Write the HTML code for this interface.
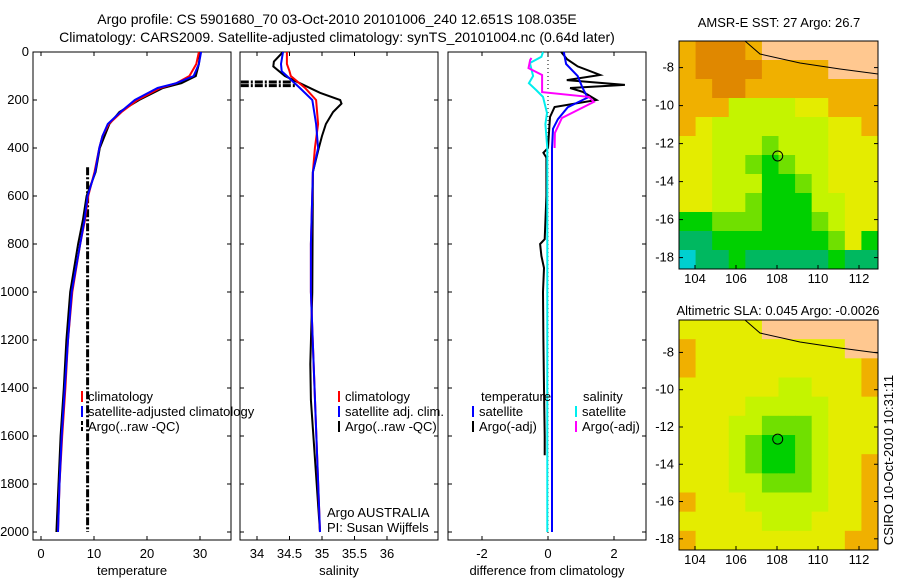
<!DOCTYPE html>
<html><head><meta charset="utf-8"><style>
body{margin:0;background:#fff;width:900px;height:580px;overflow:hidden}
svg text{font-family:"Liberation Sans",sans-serif;font-size:13px;fill:#000}
svg text.big{font-size:14px}
</style></head><body>
<svg id="c" width="900" height="580" xmlns="http://www.w3.org/2000/svg">
<text class="big" x="337" y="24" text-anchor="middle">Argo profile: CS 5901680_70 03-Oct-2010 20101006_240 12.651S 108.035E</text>
<text class="big" x="337" y="42" text-anchor="middle">Climatology: CARS2009. Satellite-adjusted climatology: synTS_20101004.nc (0.64d later)</text>
<text x="779" y="27" text-anchor="middle">AMSR-E SST: 27 Argo: 26.7</text>
<text x="778" y="315" text-anchor="middle">Altimetric SLA: 0.045 Argo: -0.0026</text>
<text transform="translate(893,460) rotate(-90)" text-anchor="middle">CSIRO 10-Oct-2010 10:31:11</text>
<g id="g"></g>
</svg>
<script>
// ---- data ----
const depthT=[0,50,100,130,150,200,250,300,350,400,500,600,700,800,1000,1200,1400,1600,1800,2000];
const tempClim=[29.8,29.3,28.0,25.5,22.5,18.2,15.2,12.8,11.6,11.0,10.1,8.9,8.3,7.4,5.9,5.1,4.6,4.0,3.5,3.2];
const tempSat=[30.2,29.8,28.8,25.5,22,17.7,15,12.6,11.6,11.0,10.2,8.8,8.2,7.4,5.8,5.1,4.5,3.9,3.5,3.2];
const tempArgo=[30.0,29.8,29.2,26.5,23,18.5,14.8,12.9,12.0,11.1,10.3,8.6,7.9,7.0,5.5,4.8,4.3,3.7,3.3,2.9];
const tempRawDepth=[480,2000];
const tempRaw=[8.8,8.8];
const depthS=[0,50,80,100,150,200,300,400,500,800,1000,2000];
const salClim=[34.46,34.46,34.5,34.52,34.74,34.91,34.94,34.89,34.86,34.83,34.83,34.97];
const salSat=[34.4,34.37,34.38,34.46,34.66,34.85,34.91,34.94,34.86,34.83,34.83,34.97];
const depthSA=[0,40,60,100,130,170,200,215,250,300,350,400,500,1000,1300,1450,2000];
const salArgo=[34.4,34.26,34.25,34.43,34.66,34.97,35.28,35.3,35.17,35.06,35.0,34.95,34.86,34.85,34.82,34.83,34.97];
const salRawDepth=[125,140];
const depthDB=[0,50,100,150,190,230,280,320,400,600,1000,2000];
const diffTSat=[0.48,0.55,0.9,1.05,1.2,0.6,0.3,0.15,0.12,0.12,0.12,0.12];
const depthDA=[0,30,60,96,117,137,150,167,200,229,271,400,420,440,600,780,800,850,900,1000,1200,1400,1600,1680];
const diffTArgo=[0.4,0.58,0.9,1.58,0.57,2.33,0.67,1.07,1.47,0.2,0.06,0,-0.14,-0.05,-0.05,-0.1,-0.24,-0.2,-0.12,-0.15,-0.14,-0.12,-0.1,-0.1];
const depthDC=[0,20,46,100,130,160,187,254,300,400,2000];
const diffSSat=[-0.15,-0.2,-0.55,-0.45,-0.58,-0.35,-0.15,-0.03,-0.08,-0.02,-0.02];
const depthDM=[25,33,67,96,167,187,208,233,275,337,400];
const diffSArgo=[-0.5,-0.54,-0.59,-0.18,-0.18,1.24,1.39,1.03,0.42,0.21,0.2];
const depthTicks=[0,200,400,600,800,1000,1200,1400,1600,1800,2000];
const tempTicks=[0,10,20,30];
const salTicks=[34,34.5,35,35.5,36];
const diffTicks=[-2,0,2];
const lonTicks=[104,106,108,110,112];
const latTicks=[-8,-10,-12,-14,-16,-18];
const argoLon=108.035, argoLat=-12.651;
const sstGrid=["oOOOoLLLLLLL","oOOOOooooLLL","ooOOoooooooo","oooyyyyYYooo","oYyyyyyyyYYo","YYyyygyyyYYY","YYyygGgyyYYY","YYyyyGGgyYYY","YYyygGGGyyYY","GGgggGGGgyYY","ttGGGGGGGgYG","cttGtttttGtt"];
const slaGrid=["YYYYYLLLLLLL","oYYYYYYYYYLL","oYYYYYYYYYYo","YYYYYYyyYYYo","YYYYyyyyyYYY","YYYyygggyYYY","YYYygGGgyYYY","YYYygGGgyYYo","YYYyygggyYYo","oYYYyyyyyYYo","YYYYYyyyYYYo","oYYYYYYYYYoo"];
// ---- helpers ----
const NS="http://www.w3.org/2000/svg",G=document.getElementById('g');
function mk(t,a,p){const e=document.createElementNS(NS,t);for(const k in a)e.setAttribute(k,a[k]);(p||G).appendChild(e);return e;}
const yD=d=>52+d*0.24;
const xT=v=>41+v*5.3, xS=v=>257+(v-34)*65, xDf=v=>548+v*33;
const xL=l=>695+(l-104)*20.5;
function line(xs,ds,fx,col,name,w,dash){
  const pts=xs.map((v,i)=>fx(v).toFixed(1)+','+yD(ds[i]).toFixed(1)).join(' ');
  const e=mk('polyline',{points:pts,fill:'none',stroke:col,'stroke-width':w||2});
  if(dash)e.setAttribute('stroke-dasharray',dash);
  
  
}
function panel(x0,name,ticks,fx,title,showY){
  const b=mk('rect',{x:x0,y:52,width:198,height:488,fill:'none',stroke:'#000','stroke-width':1});
  
  
  depthTicks.forEach(d=>{mk('line',{x1:x0,x2:x0+4,y1:yD(d),y2:yD(d),stroke:'#000'});mk('line',{x1:x0+198,x2:x0+194,y1:yD(d),y2:yD(d),stroke:'#000'});
    if(showY){const t=mk('text',{x:x0-4,y:yD(d)+4,'text-anchor':'end'});t.textContent=d;
      
      }});
  ticks.forEach(v=>{const x=fx(v);mk('line',{x1:x,x2:x,y1:540,y2:536,stroke:'#000'});mk('line',{x1:x,x2:x,y1:52,y2:56,stroke:'#000'});
    const t=mk('text',{x:x,y:558,'text-anchor':'middle'});t.textContent=v;
    
    });
  const tt=mk('text',{x:x0+99,y:575,'text-anchor':'middle'});tt.textContent=title;
  
  
}
function txt(x,y,s,name,anchor){const t=mk('text',{x:x,y:y,'text-anchor':anchor||'start'});t.textContent=s;
  
  }
function leg(x,y,col,label,name,dash){const l=mk('line',{x1:x,x2:x,y1:y-10,y2:y+1,stroke:col,'stroke-width':2});if(dash)l.setAttribute('stroke-dasharray',dash);
  
  
  txt(x+6,y,label,name);}
// panel 1 temperature
panel(33,'temperature-panel',tempTicks,xT,'temperature',true);
line(tempRaw,tempRawDepth,xT,'#000','temp-argo-raw-line',3,'8,2,2,2');
line(tempArgo,depthT,xT,'#000','temp-argo-line',2);
line(tempClim,depthT,xT,'#f00','temp-climatology-line',2);
line(tempSat,depthT,xT,'#00f','temp-satellite-line',2);
leg(82,401,'#f00','climatology','legend-climatology');
leg(82,416,'#00f','satellite-adjusted climatology','legend-satellite');
leg(82,431,'#000','Argo(..raw -QC)','legend-argo','4,2');
// panel 2 salinity
panel(240,'salinity-panel',salTicks,xS,'salinity',false);
salRawDepth.forEach(d=>line([33.75,34.6],[d,d],xS,'#000','sal-argo-raw-line',3,'8,2,2,2'));
line(salArgo,depthSA,xS,'#000','sal-argo-line',2);
line(salClim,depthS,xS,'#f00','sal-climatology-line',2);
line(salSat,depthS,xS,'#00f','sal-satellite-line',2);
leg(339,401,'#f00','climatology','legend-sal-climatology');
leg(339,416,'#00f','satellite adj. clim.','legend-sal-satellite');
leg(339,431,'#000','Argo(..raw -QC)','legend-sal-argo');
txt(327,517,'Argo AUSTRALIA','argo-agency-label');
txt(327,532,'PI: Susan Wijffels','pi-label');
// panel 3 difference
panel(448,'difference-panel',diffTicks,xDf,'difference from climatology',false);
mk('line',{x1:xDf(0),x2:xDf(0),y1:52,y2:540,stroke:'#000','stroke-dasharray':'1,3'});
line(diffTArgo,depthDA,xDf,'#000','diff-temp-argo-line',2);
line(diffSSat,depthDC,xDf,'#0ee','diff-sal-satellite-line',2);
line(diffTSat,depthDB,xDf,'#00f','diff-temp-satellite-line',2);
line(diffSArgo,depthDM,xDf,'#f0f','diff-sal-argo-line',2);
txt(481,401,'temperature','legend-temperature-header');
txt(583,401,'salinity','legend-salinity-header');
leg(473,416,'#00f','satellite','legend-diff-temp-sat');
leg(473,431,'#000','Argo(-adj)','legend-diff-temp-argo');
leg(576,416,'#0ee','satellite','legend-diff-sal-sat');
leg(576,431,'#f0f','Argo(-adj)','legend-diff-sal-argo');
// maps
const COL={O:'#e08800',o:'#f0b000',Y:'#e4ec00',y:'#c4f400',g:'#70e000',G:'#00d000',t:'#00b860',c:'#00d0d0',L:'#ffc890'};
function map(top,bottom,latTop,grid,name){
  const yM=la=>top+(latTop-la)*(bottom-top)/(latTop+18.6);
  const W=199/12,H=(bottom-top)/12;
  grid.forEach((row,r)=>[...row].forEach((ch,c)=>{const e=mk('rect',{x:679+c*W,y:top+r*H,width:W+0.5,height:H+0.5,fill:COL[ch]});
    
    }));
  const cl=mk('polyline',{points:[[745,top],[760,top+13],[800,top+22],[840,top+28],[878,top+33]].map(p=>p.join(',')).join(' '),fill:'none',stroke:'#000','stroke-width':1});
  
  
  const fr=mk('rect',{x:679,y:top,width:199,height:bottom-top,fill:'none',stroke:'#000'});
  
  
  latTicks.forEach(la=>{const y=yM(la);mk('line',{x1:679,x2:683,y1:y,y2:y,stroke:'#000'});mk('line',{x1:878,x2:874,y1:y,y2:y,stroke:'#000'});txt(674,y+4,la,name+'-lat-label','end');});
  lonTicks.forEach(l=>{const x=xL(l);mk('line',{x1:x,x2:x,y1:bottom,y2:bottom-4,stroke:'#000'});txt(x,bottom+14,l,name+'-lon-label','middle');});
  const m=mk('circle',{cx:xL(argoLon),cy:yM(argoLat),r:5,fill:'none',stroke:'#000'});
  
  
}
map(41,269,-6.6,sstGrid,'sst-map');
map(320,550,-6.26,slaGrid,'sla-map');
</script>
</body></html>
